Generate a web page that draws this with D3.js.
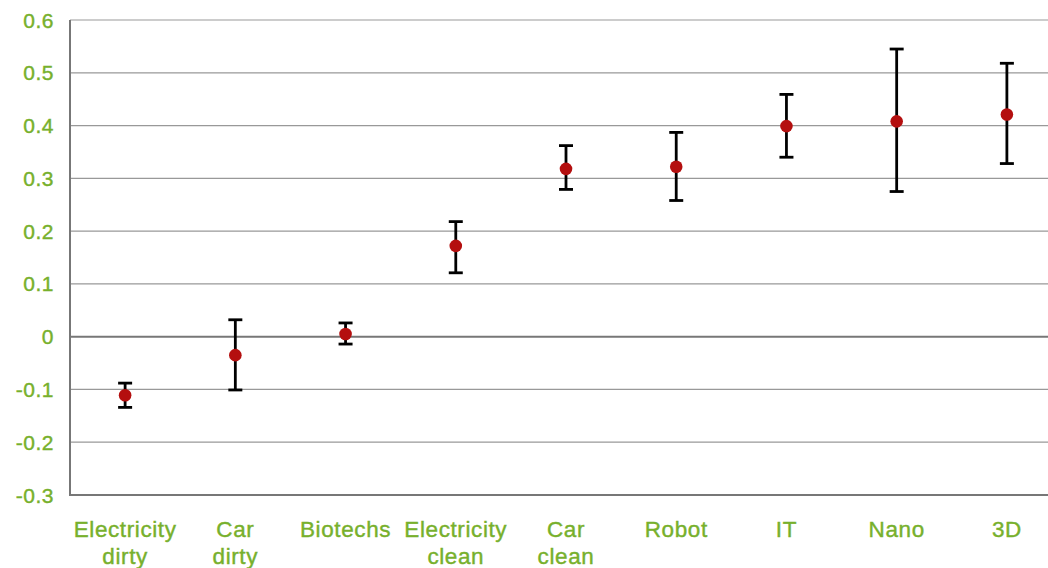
<!DOCTYPE html>
<html lang="en">
<head>
<meta charset="utf-8">
<title>Error bars</title>
<style>
  body { margin: 0; background: #fff; }
  text { font-family: "Liberation Sans", Arial, sans-serif; }
</style>
</head>
<body>
<svg width="1048" height="568"></svg>
<script src="https://d3js.org/d3.v7.min.js"></script>
<script>
  var categories = ["Electricity\ndirty", "Car\ndirty", "Biotechs", "Electricity\nclean", "Car\nclean", "Robot", "IT", "Nano", "3D"];
  var means = [-0.111, -0.035, 0.005, 0.172, 0.318, 0.322, 0.399, 0.408, 0.421];
  var upper = [-0.088, 0.032, 0.026, 0.218, 0.362, 0.387, 0.459, 0.545, 0.518];
  var lower = [-0.134, -0.101, -0.014, 0.121, 0.279, 0.258, 0.340, 0.275, 0.328];
  var yTicks = [-0.3, -0.2, -0.1, 0, 0.1, 0.2, 0.3, 0.4, 0.5, 0.6];

  var green = "#77b02c";
  var svg = d3.select("svg");

  var x = d3.scaleBand().domain(categories).range([70, 1062]);
  var y = d3.scaleLinear().domain([-0.3, 0.6]).range([495, 20]);

  var data = categories.map(function(c, i) {
    return {cat: c, mean: means[i], hi: upper[i], lo: lower[i]};
  });

  // gridlines
  svg.append("g").selectAll("line")
    .data(yTicks)
    .enter().append("line")
    .attr("x1", 70).attr("x2", 1062)
    .attr("y1", function(d) { return y(d); })
    .attr("y2", function(d) { return y(d); })
    .attr("stroke", function(d) { return (d === 0 || d === -0.3) ? "#777" : "#999"; })
    .attr("stroke-width", function(d) { return (d === 0 || d === -0.3) ? 2 : 1.2; });

  // left axis line
  svg.append("line")
    .attr("x1", 70).attr("x2", 70)
    .attr("y1", y(0.6)).attr("y2", y(-0.3) + 1)
    .attr("stroke", "#777").attr("stroke-width", 2);

  // y tick labels (plain hyphen for negatives, like the original)
  svg.append("g").selectAll("text")
    .data(yTicks)
    .enter().append("text")
    .attr("x", 54)
    .attr("y", function(d) { return y(d) + 7.5; })
    .attr("text-anchor", "end")
    .attr("fill", green)
    .attr("stroke", green).attr("stroke-width", 0.4)
    .attr("font-size", 21)
    .attr("letter-spacing", 0.5)
    .text(function(d) { return d === 0 ? "0" : d.toFixed(1); });

  // x labels, two lines where the category name wraps
  var xl = svg.append("g").selectAll("text")
    .data(categories)
    .enter().append("text")
    .attr("x", function(d) { return x(d) + x.bandwidth() / 2; })
    .attr("y", 537)
    .attr("text-anchor", "middle")
    .attr("fill", green)
    .attr("stroke", green).attr("stroke-width", 0.4)
    .attr("font-size", 22.5)
    .attr("letter-spacing", 0.6);
  xl.each(function(d) {
    var t = d3.select(this);
    d.split("\n").forEach(function(part, i) {
      t.append("tspan")
        .attr("x", x(d) + x.bandwidth() / 2)
        .attr("dy", i === 0 ? 0 : 27)
        .text(part);
    });
  });

  // error bars
  var eb = svg.append("g").selectAll("g")
    .data(data)
    .enter().append("g")
    .attr("transform", function(d) { return "translate(" + (x(d.cat) + x.bandwidth() / 2) + ",0)"; });

  eb.append("line")
    .attr("x1", 0).attr("x2", 0)
    .attr("y1", function(d) { return y(d.hi); })
    .attr("y2", function(d) { return y(d.lo); })
    .attr("stroke", "#000").attr("stroke-width", 2.8);
  eb.append("line")
    .attr("x1", -7).attr("x2", 7)
    .attr("y1", function(d) { return y(d.hi); })
    .attr("y2", function(d) { return y(d.hi); })
    .attr("stroke", "#000").attr("stroke-width", 2.8);
  eb.append("line")
    .attr("x1", -7).attr("x2", 7)
    .attr("y1", function(d) { return y(d.lo); })
    .attr("y2", function(d) { return y(d.lo); })
    .attr("stroke", "#000").attr("stroke-width", 2.8);
  eb.append("circle")
    .attr("cx", 0)
    .attr("cy", function(d) { return y(d.mean); })
    .attr("r", 6.3)
    .attr("fill", "#b40f0f");
</script>
</body>
</html>
